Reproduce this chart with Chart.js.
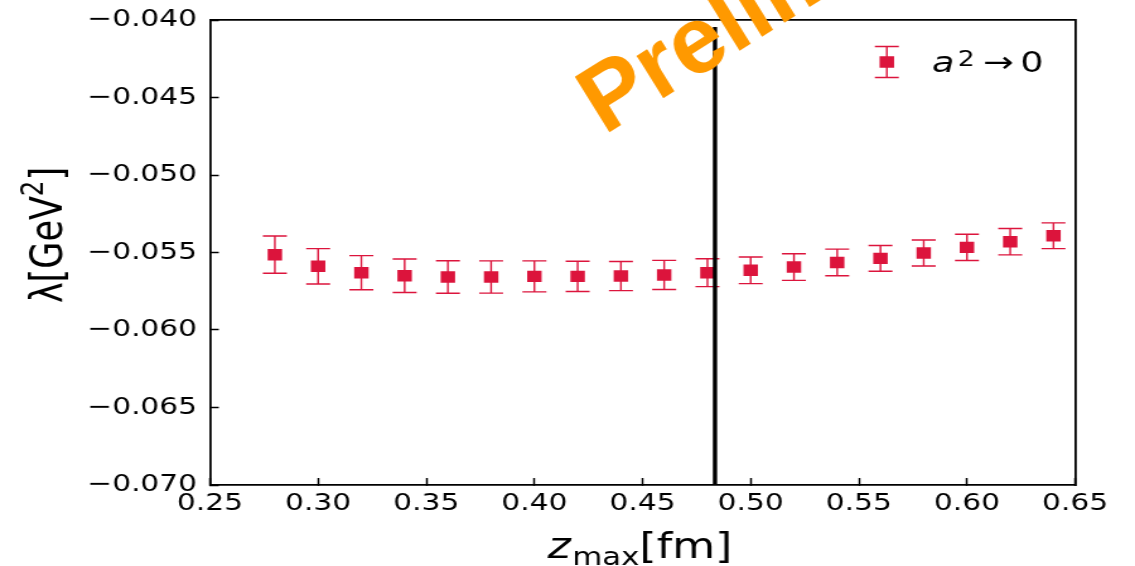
<!DOCTYPE html>
<html>
<head>
<meta charset="utf-8">
<title>lambda vs z_max</title>
<style>
  html, body { margin: 0; padding: 0; background: #ffffff; overflow: hidden; }
  #fig { display: block; }
</style>
<script src="https://cdn.jsdelivr.net/npm/chart.js@4.4.1/dist/chart.umd.min.js"></script>
</head>
<body>
<!-- the figure is rendered 900 px wide and shown stretched to the page width -->
<canvas id="fig" width="900" height="566" style="width:1135px;height:566px"></canvas>
<script>
// z_max values [fm]
const zMax = [0.28, 0.30, 0.32, 0.34, 0.36, 0.38, 0.40, 0.42, 0.44, 0.46,
              0.48, 0.50, 0.52, 0.54, 0.56, 0.58, 0.60, 0.62, 0.64];
// continuum (a^2 -> 0) extrapolated lambda [GeV^2]
const lambda = [-0.05514, -0.05589, -0.05630, -0.05650, -0.05658, -0.05658, -0.05654,
                -0.05654, -0.05652, -0.05645, -0.05630, -0.05615, -0.05594, -0.05564,
                -0.05538, -0.05503, -0.05467, -0.05430, -0.05392];
// one-sigma uncertainties of lambda
const lambdaErr = [0.00120, 0.00114, 0.00110, 0.00108, 0.00105, 0.00104, 0.00100,
                   0.00098, 0.00094, 0.00094, 0.00090, 0.00086, 0.00086, 0.00086,
                   0.00083, 0.00084, 0.00085, 0.00085, 0.00083];
// axis ticks
const xTicks = [0.25, 0.30, 0.35, 0.40, 0.45, 0.50, 0.55, 0.60, 0.65];
const yTicks = [-0.070, -0.065, -0.060, -0.055, -0.050, -0.045, -0.040];
// vertical marker line
const cutZ = 0.4835;
const cutTop = -0.04045;

const seriesName = 'a\u00b2 \u2192 0';
const watermark = 'Preliminary';

const STRETCH = 1135 / 900;
const RED = '#dc143c';
const CAP = 9.5;
const TICK_FONT = { family: "'DejaVu Sans', sans-serif", size: 23.5 };
const PLOT_TOP = 20;

function drawErrorBar(ctx, px, top, bot) {
  ctx.beginPath();
  ctx.moveTo(px, top); ctx.lineTo(px, bot);
  ctx.moveTo(px - CAP, top); ctx.lineTo(px + CAP, top);
  ctx.moveTo(px - CAP, bot); ctx.lineTo(px + CAP, bot);
  ctx.stroke();
}

// draws a list of text runs one after another along the baseline
function drawRuns(ctx, runs, x, y) {
  let cx = x;
  runs.forEach(r => {
    ctx.font = r.font;
    ctx.fillText(r.text, cx, y + (r.dy || 0));
    cx += ctx.measureText(r.text).width + (r.gap || 0);
  });
  return cx - x;
}
function runsWidth(ctx, runs) {
  let w = 0;
  runs.forEach(r => { ctx.font = r.font; w += ctx.measureText(r.text).width + (r.gap || 0); });
  return w;
}

const errorBars = {
  id: 'errorBars',
  beforeDatasetsDraw(chart) {
    const { ctx, scales: { x, y } } = chart;
    ctx.save();
    ctx.strokeStyle = RED;
    ctx.lineWidth = 1.4;
    zMax.forEach((z, i) => {
      const px = x.getPixelForValue(z);
      const top = y.getPixelForValue(lambda[i] + lambdaErr[i]);
      const bot = y.getPixelForValue(lambda[i] - lambdaErr[i]);
      drawErrorBar(ctx, px, top, bot);
    });
    ctx.restore();
  }
};

const annotations = {
  id: 'annotations',
  afterDraw(chart) {
    const { ctx, chartArea } = chart;
    ctx.save();
    ctx.fillStyle = '#000';
    ctx.textAlign = 'left';
    ctx.textBaseline = 'alphabetic';

    // x-axis title: z_max[fm]
    const xRuns = [
      { text: 'z', font: "italic 35px 'DejaVu Sans'" , gap: 1 },
      { text: 'max', font: "24.5px 'DejaVu Sans'", dy: 7 },
      { text: '[fm]', font: "35px 'DejaVu Sans'" }
    ];
    const xw = runsWidth(ctx, xRuns);
    drawRuns(ctx, xRuns, (chartArea.left + chartArea.right) / 2 - xw / 2 - 2, 558);

    // y-axis title: λ[GeV²]
    const yRuns = [
      { text: '\u03bb[GeV', font: "35px 'DejaVu Sans'" },
      { text: '2', font: "24.5px 'DejaVu Sans'", dy: -15 },
      { text: ']', font: "35px 'DejaVu Sans'" }
    ];
    const yw = runsWidth(ctx, yRuns);
    ctx.save();
    ctx.translate(49.3, 235);
    ctx.rotate(-Math.PI / 2);
    drawRuns(ctx, yRuns, -yw / 2, 0);
    ctx.restore();

    // legend entry
    const lx = 703.2, ly = 62;
    ctx.strokeStyle = RED;
    ctx.lineWidth = 1.4;
    drawErrorBar(ctx, lx, 46.5, 77.5);
    ctx.fillStyle = RED;
    ctx.fillRect(lx - 5.75, ly - 5.75, 11.5, 11.5);
    ctx.fillStyle = '#000';
    ctx.font = "italic 29px 'DejaVu Sans'";
    ctx.fillText(seriesName.charAt(0), 738.9, 72);
    ctx.font = "21px 'DejaVu Sans'";
    ctx.fillText('2', 759.5, 66);
    ctx.font = "29px 'DejaVu Sans'";
    ctx.fillText('\u2192', 779.5, 72);
    ctx.fillText('0', 808.9, 72);

    // watermark, drawn in unstretched page pixels
    ctx.save();
    ctx.scale(1 / STRETCH, 1);
    ctx.translate(604, 135.4);
    ctx.rotate(-32 * Math.PI / 180);
    ctx.fillStyle = '#ff9900';
    ctx.font = "bold 95px 'Liberation Sans', Arial, sans-serif";
    ctx.fillText(watermark, 0, 0);
    ctx.restore();

    ctx.restore();
  }
};

// pins the plot area's top edge after the layout pass
const pinTop = {
  id: 'pinTop',
  afterLayout(chart) {
    const dy = chart.chartArea.top - PLOT_TOP;
    if (Math.abs(dy) < 0.01) return;
    chart.chartArea.top = PLOT_TOP;
    chart.chartArea.height = chart.chartArea.bottom - PLOT_TOP;
    ['y', 'y2'].forEach(id => {
      const s = chart.scales[id];
      s.top = PLOT_TOP;
      s.height = s.bottom - PLOT_TOP;
      s.configure();
    });
    const t = chart.scales.x2;
    t.top = PLOT_TOP; t.bottom = PLOT_TOP;
  }
};

const frameAxis = (pos) => ({
  type: 'linear',
  position: pos,
  min: 0, max: 1,
  display: true,
  ticks: { display: false },
  grid: { display: true, drawOnChartArea: false, drawTicks: false },
  border: { display: true, color: '#000', width: 1.8 },
  afterFit(s) { if (pos === 'top') s.height = 0; else s.width = 0; }
});

new Chart(document.getElementById('fig'), {
  type: 'scatter',
  data: {
    datasets: [
      {
        type: 'line',
        data: [{ x: cutZ, y: yTicks[0] }, { x: cutZ, y: cutTop }],
        borderColor: '#000',
        borderWidth: 3.4,
        pointRadius: 0,
        order: 0,
        xAxisID: 'x', yAxisID: 'y'
      },
      {
        label: seriesName,
        data: zMax.map((z, i) => ({ x: z, y: lambda[i] })),
        pointStyle: 'rect',
        pointRadius: 8.1,
        pointHoverRadius: 8.1,
        backgroundColor: RED,
        borderWidth: 0,
        order: 1,
        xAxisID: 'x', yAxisID: 'y'
      }
    ]
  },
  options: {
    responsive: false,
    animation: false,
    devicePixelRatio: 1,
    events: [],
    layout: { padding: { top: PLOT_TOP, right: 47.5, left: 0, bottom: 0 } },
    plugins: { legend: { display: false }, tooltip: { enabled: false } },
    scales: {
      x: {
        type: 'linear',
        position: 'bottom',
        min: xTicks[0], max: xTicks[xTicks.length - 1],
        afterBuildTicks(s) { s.ticks = xTicks.map(v => ({ value: v })); },
        ticks: {
          callback: v => v.toFixed(2),
          font: TICK_FONT, color: '#000',
          padding: 11.9, maxRotation: 0, autoSkip: false
        },
        grid: { drawOnChartArea: false, tickLength: -7, tickWidth: 1.5, tickColor: '#000' },
        border: { color: '#000', width: 1.8 },
        afterFit(s) { s.height = 81; }
      },
      y: {
        type: 'linear',
        position: 'left',
        min: yTicks[0], max: yTicks[yTicks.length - 1],
        afterBuildTicks(s) { s.ticks = yTicks.map(v => ({ value: v })); },
        ticks: {
          callback: v => (v < 0 ? '\u2212' : '') + Math.abs(v).toFixed(3),
          font: TICK_FONT, color: '#000',
          padding: 17.3, autoSkip: false
        },
        grid: { drawOnChartArea: false, tickLength: -7, tickWidth: 1.5, tickColor: '#000' },
        border: { color: '#000', width: 1.8 },
        afterFit(s) { s.width = 166.5; }
      },
      x2: frameAxis('top'),
      y2: frameAxis('right')
    }
  },
  plugins: [pinTop, errorBars, annotations]
});
</script>
</body>
</html>
